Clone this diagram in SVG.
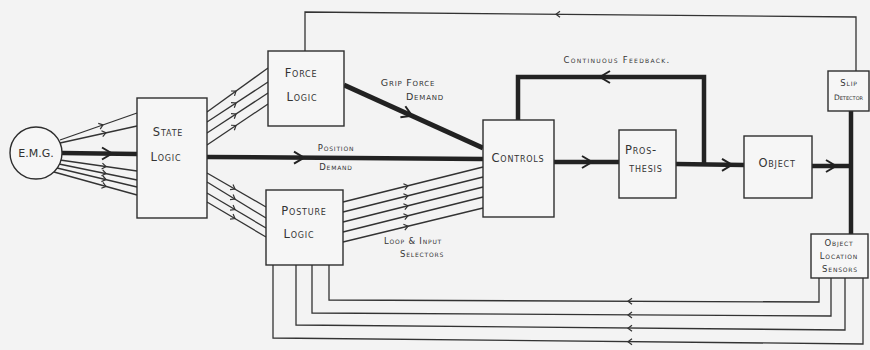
<svg xmlns="http://www.w3.org/2000/svg" xmlns:xlink="http://www.w3.org/1999/xlink" width="870" height="350" viewBox="0 0 870 350">
<style>
.bg{fill:#f3f3f3}
.box{fill:#f6f6f6;stroke:#2e2e2e;stroke-width:1.4}
.thin{fill:none;stroke:#333;stroke-width:1.3}
.thick{fill:none;stroke:#222;stroke-width:4.5}
.chev{fill:none;stroke:#333;stroke-width:1.2}
.chevT{fill:none;stroke:#222;stroke-width:2}
text{font-family:"DejaVu Sans","Liberation Sans",sans-serif;font-variant:small-caps;fill:#333;text-anchor:middle;letter-spacing:0.8px}
.n{font-size:11.5px}
.s{font-size:9.5px}
.xs{font-size:8.5px}
</style>
<defs>
<path id="a" class="chev" d="M-4,-3 L0,0 L-4,3"/>
<path id="A" class="chevT" d="M-10,-6 L0,0 L-10,6"/>
</defs>
<rect class="bg" x="0" y="0" width="870" height="350"/>

<g id="connectors">
  <!-- EMG to State Logic -->
  <path class="thin" d="M60,140 L137,113"/>
  <path class="thin" d="M60,143 L137,126"/>
  <path class="thick" d="M62,153 L137,154"/>
  <path class="thin" d="M60,160 L137,171"/>
  <path class="thin" d="M59,164 L137,180"/>
  <path class="thin" d="M57,168 L137,187"/>
  <path class="thin" d="M54,172 L137,195"/>
  <use href="#a" transform="translate(103,124.9) rotate(-19.3)"/>
  <use href="#a" transform="translate(106,132.8) rotate(-12.4)"/>
  <use href="#A" transform="translate(112,153.5)"/>
  <use href="#a" transform="translate(106,166.6) rotate(8.1)"/>
  <use href="#a" transform="translate(106,173.6) rotate(11.6)"/>
  <use href="#a" transform="translate(106,179.6) rotate(13.4)"/>
  <use href="#a" transform="translate(106,186.4) rotate(15.5)"/>

  <!-- State Logic to Force Logic -->
  <path class="thin" d="M207,112 L268,68"/>
  <path class="thin" d="M207,122 L268,82"/>
  <path class="thin" d="M207,133 L268,93"/>
  <path class="thin" d="M207,145 L268,104"/>
  <use href="#a" transform="translate(236,91.1) rotate(-35.8)"/>
  <use href="#a" transform="translate(236,103) rotate(-33.3)"/>
  <use href="#a" transform="translate(236,114) rotate(-33.3)"/>
  <use href="#a" transform="translate(236,125.5) rotate(-33.9)"/>

  <!-- State Logic to Posture Logic -->
  <path class="thin" d="M207,173 L266,207"/>
  <path class="thin" d="M207,182 L266,218"/>
  <path class="thin" d="M207,193 L266,228"/>
  <path class="thin" d="M207,202 L266,237"/>
  <use href="#a" transform="translate(235,189.1) rotate(30)"/>
  <use href="#a" transform="translate(235,199.1) rotate(31.4)"/>
  <use href="#a" transform="translate(235,209.6) rotate(30.7)"/>
  <use href="#a" transform="translate(235,218.6) rotate(30.7)"/>

  <!-- Position demand -->
  <path class="thick" d="M207,157 L483,159"/>
  <use href="#A" transform="translate(304,157.7)"/>

  <!-- Grip force demand -->
  <path class="thick" d="M344,85 L483,148" style="stroke-width:5"/>
  <use href="#A" transform="translate(412,115.8) rotate(24.4)"/>

  <!-- Posture Logic to Controls -->
  <path class="thin" d="M343,202 L483,167"/>
  <path class="thin" d="M343,212 L483,177"/>
  <path class="thin" d="M343,222 L483,187"/>
  <path class="thin" d="M343,232 L483,197"/>
  <path class="thin" d="M343,242 L483,208"/>
  <use href="#a" transform="translate(408,185.75) rotate(-14)"/>
  <use href="#a" transform="translate(408,195.75) rotate(-14)"/>
  <use href="#a" transform="translate(408,205.75) rotate(-14)"/>
  <use href="#a" transform="translate(408,215.75) rotate(-14)"/>
  <use href="#a" transform="translate(408,226.2) rotate(-13.7)"/>

  <!-- Controls to Prosthesis -->
  <path class="thick" d="M554,162 L619,162"/>
  <use href="#A" transform="translate(592,162)"/>
  <!-- Prosthesis to Object -->
  <path class="thick" d="M676,164 L744,165"/>
  <use href="#A" transform="translate(732,164.8)"/>
  <!-- Continuous feedback -->
  <path class="thick" d="M704,164 L704,77 L518,77 L518,120"/>
  <use href="#A" transform="translate(600,77) rotate(180)"/>
  <!-- Object to bus -->
  <path class="thick" d="M812,166 L851,166"/>
  <use href="#A" transform="translate(836,166)"/>
  <path class="thick" d="M851,111 L851,234"/>

  <!-- Slip detector to Force Logic -->
  <path class="thin" d="M856,71 L856,17 L305,12 L305,51"/>
  <use href="#a" transform="translate(556,14.3) rotate(180)"/>

  <!-- Object location sensors to Posture Logic -->
  <path class="thin" d="M819,278 L819,302 L329,300 L329,265"/>
  <path class="thin" d="M831,278 L831,316 L312,313 L312,265"/>
  <path class="thin" d="M845,278 L845,330 L296,325 L296,265"/>
  <path class="thin" d="M863,278 L863,344 L273,338 L273,265"/>
  <use href="#a" transform="translate(628,301.2) rotate(180)"/>
  <use href="#a" transform="translate(628,314.9) rotate(180)"/>
  <use href="#a" transform="translate(628,328.2) rotate(180)"/>
  <use href="#a" transform="translate(628,341.7) rotate(180)"/>
</g>

<g id="labels">
  <text class="s" x="408" y="86">Grip Force</text>
  <text class="s" x="425" y="100">Demand</text>
  <text class="xs" x="336" y="151">Position</text>
  <text class="xs" x="336" y="170">Demand</text>
  <text class="xs" x="413" y="244">Loop &amp; Input</text>
  <text class="xs" x="422" y="257">Selectors</text>
  <text class="xs" x="617" y="63" style="letter-spacing:1.3px">Continuous Feedback.</text>
</g>

<g id="emg">
  <circle class="box" cx="36" cy="153" r="26"/>
  <text class="n" x="36" y="157" style="letter-spacing:0;font-size:11px">E.M.G.</text>
</g>
<g id="state-logic">
  <rect class="box" x="137" y="98" width="70" height="120"/>
  <text class="n" x="168" y="136">State</text>
  <text class="n" x="166" y="161">Logic</text>
</g>
<g id="force-logic">
  <rect class="box" x="268" y="51" width="76" height="75"/>
  <text class="n" x="301" y="77">Force</text>
  <text class="n" x="302" y="101">Logic</text>
</g>
<g id="posture-logic">
  <rect class="box" x="266" y="190" width="77" height="75"/>
  <text class="n" x="304" y="215">Posture</text>
  <text class="n" x="299" y="238">Logic</text>
</g>
<g id="controls">
  <rect class="box" x="483" y="120" width="71" height="97"/>
  <text class="n" x="518" y="162">Controls</text>
</g>
<g id="prosthesis">
  <rect class="box" x="619" y="130" width="57" height="68"/>
  <text class="n" x="641" y="154">Pros-</text>
  <text class="n" x="646" y="172">thesis</text>
</g>
<g id="object">
  <rect class="box" x="744" y="136" width="68" height="62"/>
  <text class="n" x="777" y="167">Object</text>
</g>
<g id="slip-detector">
  <rect class="box" x="828" y="71" width="41" height="40"/>
  <text class="xs" x="849" y="86">Slip</text>
  <text class="xs" x="848.5" y="100" style="font-size:7.5px;letter-spacing:0">Detector</text>
</g>
<g id="object-location-sensors">
  <rect class="box" x="811" y="234" width="57" height="44"/>
  <text class="xs" x="839" y="246">Object</text>
  <text class="xs" x="839" y="259">Location</text>
  <text class="xs" x="840" y="272">Sensors</text>
</g>
</svg>
